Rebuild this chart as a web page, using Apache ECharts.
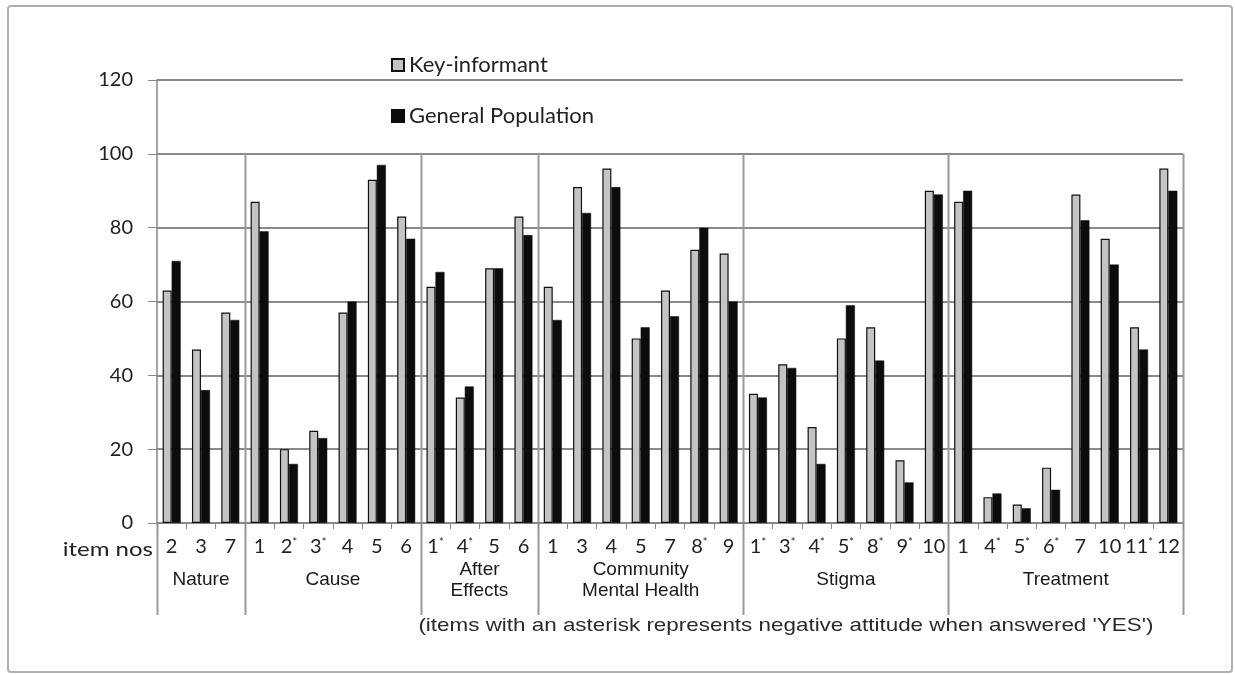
<!DOCTYPE html>
<html>
<head>
<meta charset="utf-8">
<script src="https://cdn.jsdelivr.net/npm/echarts@6/dist/echarts.min.js"></script>
<style>
  html, body { margin: 0; padding: 0; background: #fff; }
  #chart { width: 1235px; height: 675px; }
</style>
</head>
<body>
<div id="chart"></div>
<script>
  // item numbers (asterisk = negative attitude when answered YES)
  var itemLabels = ['2', '3', '7',
    '1', '2*', '3*', '4', '5', '6',
    '1*', '4*', '5', '6',
    '1', '3', '4', '5', '7', '8*', '9',
    '1*', '3*', '4*', '5*', '8*', '9*', '10',
    '1', '4*', '5*', '6*', '7', '10', '11*', '12'];
  var groupNames = ['Nature', 'Cause', 'After\nEffects', 'Community\nMental Health', 'Stigma', 'Treatment'];
  var groupSizes = [3, 6, 4, 7, 7, 8];

  var keyInformant = [63, 47, 57,
    87, 20, 25, 57, 93, 83,
    64, 34, 69, 83,
    64, 91, 96, 50, 63, 74, 73,
    35, 43, 26, 50, 53, 17, 90,
    87, 7, 5, 15, 89, 77, 53, 96];
  var generalPop = [71, 36, 55,
    79, 16, 23, 60, 97, 77,
    68, 37, 69, 78,
    55, 84, 91, 53, 56, 80, 60,
    34, 42, 16, 59, 44, 11, 89,
    90, 8, 4, 9, 82, 70, 47, 90];

  var yTicks = [0, 20, 40, 60, 80, 100, 120];

  var LABEL_FONT = 'Lato, "Open Sans", sans-serif';
  var ARIAL = '"Liberation Sans", Arial, sans-serif';

  var chart = echarts.init(document.getElementById('chart'));

  var option = {
    animation: false,
    backgroundColor: '#fff',
    grid: {
      left: 157, right: 52, top: 80, bottom: 152,
      containLabel: false,
      outerBoundsMode: 'none'
    },
    legend: {
      orient: 'vertical',
      left: 386,
      top: 49,
      itemWidth: 12,
      itemHeight: 12,
      itemGap: 29,
      icon: 'rect',
      textStyle: { fontFamily: LABEL_FONT, fontSize: 22, color: '#222' },
      data: ['Key-informant', 'General Population']
    },
    xAxis: {
      type: 'category',
      data: itemLabels,
      axisLine: { lineStyle: { color: '#888', width: 1.5 } },
      axisTick: { show: true, length: 6, lineStyle: { color: '#888' } },
      axisLabel: {
        interval: 0,
        margin: 14,
        formatter: function (v, i) {
          var s = itemLabels[i];
          if (s.indexOf('*') >= 0) {
            return '{n|' + s.replace('*', '') + '}{s|*}';
          }
          return '{n|' + s + '}';
        },
        rich: {
          n: { fontFamily: LABEL_FONT, fontSize: 20, color: '#222', lineHeight: 20 },
          s: { fontFamily: LABEL_FONT, fontSize: 11, color: '#222', verticalAlign: 'top', lineHeight: 20, padding: [0, 0, 8, 0] }
        }
      },
      splitLine: { show: false }
    },
    yAxis: {
      type: 'value',
      min: 0,
      max: 120,
      interval: 20,
      axisLine: { show: true, lineStyle: { color: '#888', width: 1.5 } },
      axisTick: { show: true, length: 9, lineStyle: { color: '#888' } },
      axisLabel: {
        margin: 24,
        fontFamily: LABEL_FONT,
        fontSize: 20,
        color: '#222',
        formatter: function (v) { return yTicks.indexOf(v) >= 0 ? String(v) : ''; }
      },
      splitLine: { lineStyle: { color: '#8a8a8a', width: 2 } }
    },
    series: [
      {
        name: 'Key-informant',
        type: 'bar',
        data: keyInformant,
        barWidth: 9,
        barGap: '0%',
        itemStyle: { color: '#c4c4c4', borderColor: '#111', borderWidth: 1.2 }
      },
      {
        name: 'General Population',
        type: 'bar',
        data: generalPop,
        barWidth: 9,
        itemStyle: { color: '#0c0c0c', borderColor: '#0c0c0c', borderWidth: 0.5 }
      }
    ]
  };

  chart.setOption(option);

  // group separators and group names, positioned through the axis scales
  function catCenter(i) { return chart.convertToPixel({ xAxisIndex: 0 }, i); }
  var band = catCenter(1) - catCenter(0);
  function edge(i) {
    if (i >= itemLabels.length) return catCenter(itemLabels.length - 1) + band / 2;
    return catCenter(i) - band / 2;
  }
  var yTop = chart.convertToPixel({ yAxisIndex: 0 }, 100);
  var yBase = chart.convertToPixel({ yAxisIndex: 0 }, 0);
  var lineBottom = yBase + 92;

  var graphics = [];
  graphics.push({
    type: 'rect',
    shape: { x: 8, y: 6, width: 1224, height: 666, r: 3 },
    style: { fill: 'none', stroke: '#b0b0b0', lineWidth: 2 },
    silent: true
  });

  var start = 0;
  var bounds = [0];
  groupSizes.forEach(function (n) { start += n; bounds.push(start); });

  bounds.forEach(function (b, k) {
    var x = Math.round(edge(b)) + 0.5;
    graphics.push({
      type: 'line',
      shape: { x1: x, y1: (k === 0 ? yBase : yTop), x2: x, y2: lineBottom },
      style: { stroke: '#9a9a9a', lineWidth: 2 },
      silent: true
    });
  });

  groupNames.forEach(function (name, k) {
    var cx = (edge(bounds[k]) + edge(bounds[k + 1])) / 2;
    graphics.push({
      type: 'text',
      x: cx,
      y: yBase + 57,
      style: {
        text: name,
        fontFamily: ARIAL,
        fontSize: 19,
        lineHeight: 21,
        fill: '#1a1a1a',
        align: 'center',
        verticalAlign: 'middle'
      },
      silent: true
    });
  });

  graphics.push({
    type: 'text',
    x: edge(0) - 4,
    y: yBase + 27,
    scaleX: 1.2,
    style: {
      text: 'item nos',
      fontFamily: LABEL_FONT,
      fontSize: 20,
      fill: '#222',
      align: 'right',
      verticalAlign: 'middle'
    },
    silent: true
  });

  graphics.push({
    type: 'text',
    x: (edge(bounds[2]) + edge(bounds[6])) / 2 - 16,
    y: yBase + 103,
    scaleX: 1.18,
    style: {
      text: "(items with an asterisk represents negative attitude when answered 'YES')",
      fontFamily: ARIAL,
      fontSize: 19,
      fill: '#2a2a2a',
      align: 'center',
      verticalAlign: 'middle'
    },
    silent: true
  });

  chart.setOption({ graphic: graphics });
</script>
</body>
</html>
